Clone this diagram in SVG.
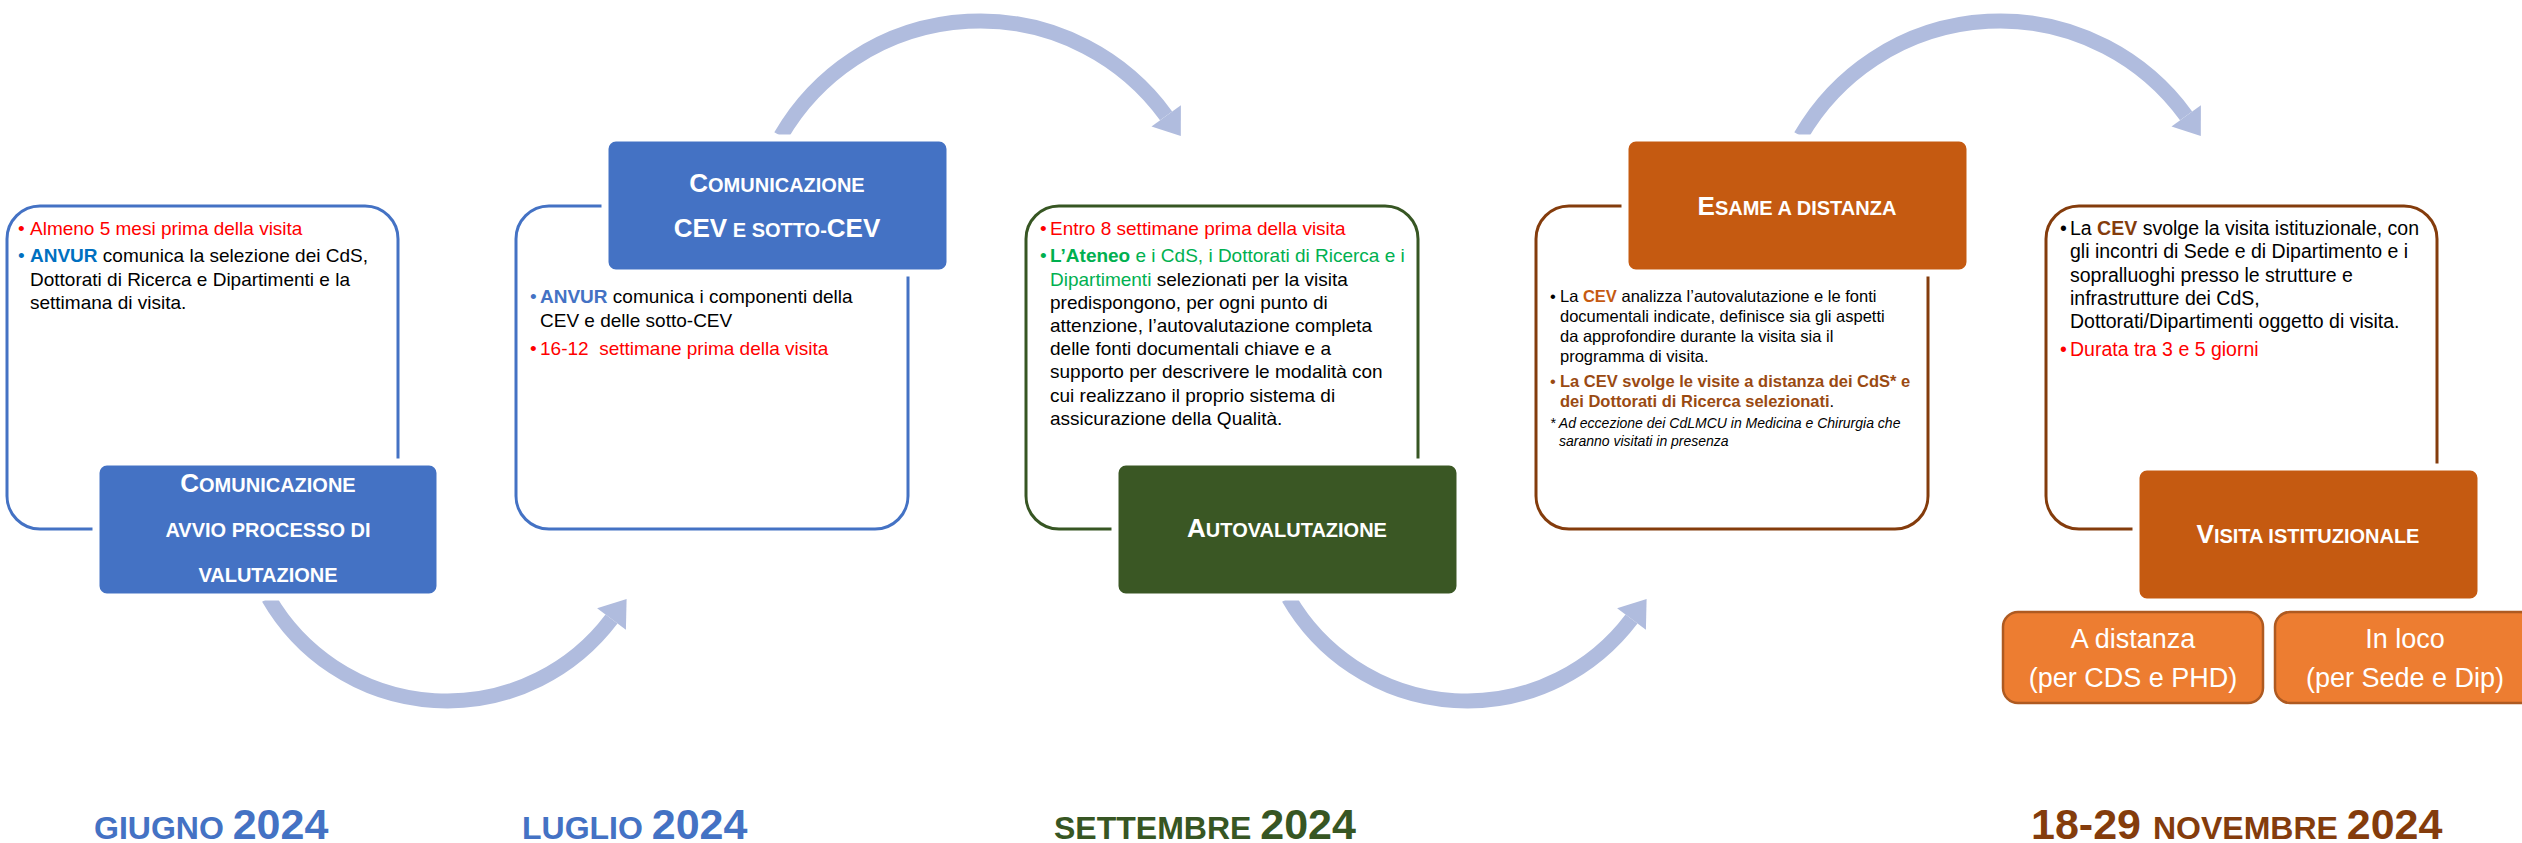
<svg xmlns="http://www.w3.org/2000/svg" width="2522" height="843" viewBox="0 0 2522 843">
<defs>
<style>
text{font-family:"Liberation Sans",Arial,sans-serif;}
.body{font-size:19px;fill:#000;}
.b4{font-size:16.5px;fill:#000;}
.b5{font-size:19.5px;fill:#000;}
.title{font-weight:bold;fill:#fff;text-anchor:middle;}
.big{font-size:26px;}
.sm{font-size:20px;}
.red{fill:#FF0000;}
.bold{font-weight:bold;}
.arc{fill:none;stroke:#B0BCDE;stroke-width:15;}
.head{fill:#B0BCDE;}
.oblue{fill:#fff;stroke:#4472C4;stroke-width:3;}
.ogreen{fill:#fff;stroke:#375623;stroke-width:3;}
.obrown{fill:#fff;stroke:#843C0C;stroke-width:3;}
.fill{stroke:#fff;stroke-width:7;}
.sub{fill:#ED7D31;stroke:#AE5A21;stroke-width:2.5;}
.subt{font-size:27px;fill:#fff;text-anchor:middle;}
.date{font-weight:bold;}
.dbig{font-size:43px;}
.dsm{font-size:32px;}
</style>
</defs>
<rect width="2522" height="843" fill="#fff"/>

<g id="connectors">
<path class="arc" d="M 268.6 598 A 206 206 0 0 0 611.5 619"/>
<polygon class="head" points="626.6,599 625.9,629.8 597.1,608.2"/>
<path class="arc" d="M 1288.6 598 A 206 206 0 0 0 1631.5 619"/>
<polygon class="head" points="1646.6,599 1645.9,629.8 1617.1,608.2"/>
<path class="arc" d="M 780.8 136 A 230 230 0 0 1 1166.1 115.8"/>
<polygon class="head" points="1180.8,136 1180.9,105.2 1151.5,126.4"/>
<path class="arc" d="M 1800.8 136 A 230 230 0 0 1 2186.1 115.8"/>
<polygon class="head" points="2200.8,136 2200.9,105.2 2171.5,126.4"/>
</g>

<g id="node-giugno">
<rect class="oblue" x="7" y="206" width="391" height="323" rx="33"/>
<rect class="fill" x="96" y="462" width="344" height="135" rx="11" fill="#4472C4"/>
<text class="title"><tspan x="268" y="492"><tspan class="big">C</tspan><tspan class="sm">OMUNICAZIONE</tspan></tspan><tspan class="sm" x="268" y="537">AVVIO PROCESSO DI</tspan><tspan class="sm" x="268" y="582">VALUTAZIONE</tspan></text>
<text class="body red" x="18" y="235">•</text>
<text class="body red" x="30" y="235">Almeno 5 mesi prima della visita</text>
<text class="body" x="18" y="262" style="fill:#0070C0">•</text>
<text class="body" x="30" y="262"><tspan class="bold" style="fill:#0070C0">ANVUR</tspan> comunica la selezione dei CdS,</text>
<text class="body" x="30" y="286">Dottorati di Ricerca e Dipartimenti e la</text>
<text class="body" x="30" y="309">settimana di visita.</text>
</g>

<g id="node-luglio">
<rect class="oblue" x="516" y="206" width="392" height="323" rx="33"/>
<rect class="fill" x="605" y="138" width="345" height="135" rx="11" fill="#4472C4"/>
<text class="title"><tspan x="777" y="192"><tspan class="big">C</tspan><tspan class="sm">OMUNICAZIONE</tspan></tspan><tspan x="777" y="237"><tspan class="big">CEV</tspan><tspan class="sm"> E SOTTO-</tspan><tspan class="big">CEV</tspan></tspan></text>
<text class="body" x="530" y="303" style="fill:#4472C4">•</text>
<text class="body" x="540" y="303"><tspan class="bold" style="fill:#4472C4">ANVUR</tspan> comunica i componenti della</text>
<text class="body" x="540" y="327">CEV e delle sotto-CEV</text>
<text class="body red" x="530" y="355">•</text>
<text class="body red" x="540" y="355" xml:space="preserve">16-12  settimane prima della visita</text>
</g>

<g id="node-settembre">
<rect class="ogreen" x="1026" y="206" width="392" height="323" rx="33"/>
<rect class="fill" x="1115" y="462" width="345" height="135" rx="11" fill="#3A5724"/>
<text class="title" x="1287" y="537"><tspan class="big">A</tspan><tspan class="sm">UTOVALUTAZIONE</tspan></text>
<text class="body red" x="1040" y="235">•</text>
<text class="body red" x="1050" y="235">Entro 8 settimane prima della visita</text>
<text class="body" x="1040" y="262" style="fill:#00B050">•</text>
<text class="body" x="1050" y="262" style="fill:#00B050"><tspan class="bold">L’Ateneo</tspan> e i CdS, i Dottorati di Ricerca e i</text>
<text class="body" x="1050" y="286"><tspan style="fill:#00B050">Dipartimenti</tspan> selezionati per la visita</text>
<text class="body" x="1050" y="309">predispongono, per ogni punto di</text>
<text class="body" x="1050" y="332">attenzione, l’autovalutazione completa</text>
<text class="body" x="1050" y="355">delle fonti documentali chiave e a</text>
<text class="body" x="1050" y="378">supporto per descrivere le modalità con</text>
<text class="body" x="1050" y="402">cui realizzano il proprio sistema di</text>
<text class="body" x="1050" y="425">assicurazione della Qualità.</text>
</g>

<g id="node-esame">
<rect class="obrown" x="1536" y="206" width="392" height="323" rx="33"/>
<rect class="fill" x="1625" y="138" width="345" height="135" rx="11" fill="#C55A11"/>
<text class="title" x="1797" y="215"><tspan class="big">E</tspan><tspan class="sm">SAME A DISTANZA</tspan></text>
<text class="b4" x="1550" y="302">•</text>
<text class="b4" x="1560" y="302">La <tspan class="bold" style="fill:#C55A11">CEV</tspan> analizza l’autovalutazione e le fonti</text>
<text class="b4" x="1560" y="322">documentali indicate, definisce sia gli aspetti</text>
<text class="b4" x="1560" y="342">da approfondire durante la visita sia il</text>
<text class="b4" x="1560" y="362">programma di visita.</text>
<text class="b4" x="1550" y="387" style="fill:#9A4A12">•</text>
<text class="b4 bold" x="1560" y="387" style="fill:#9A4A12">La CEV svolge le visite a distanza dei CdS* e</text>
<text class="b4" x="1560" y="407"><tspan class="bold" style="fill:#9A4A12">dei Dottorati di Ricerca selezionati</tspan>.</text>
<text x="1550" y="428" style="font-size:14px;font-style:italic;fill:#000">* Ad eccezione dei CdLMCU in Medicina e Chirurgia che</text>
<text x="1559" y="446" style="font-size:14px;font-style:italic;fill:#000">saranno visitati in presenza</text>
</g>

<g id="node-visita">
<rect class="obrown" x="2046" y="206" width="391" height="323" rx="33"/>
<rect class="fill" x="2136" y="467" width="345" height="135" rx="11" fill="#C55A11"/>
<text class="title" x="2308" y="543"><tspan class="big">V</tspan><tspan class="sm">ISITA ISTITUZIONALE</tspan></text>
<text class="b5" x="2060" y="235">•</text>
<text class="b5" x="2070" y="235">La <tspan class="bold" style="fill:#843C0C">CEV</tspan> svolge la visita istituzionale, con</text>
<text class="b5" x="2070" y="258">gli incontri di Sede e di Dipartimento e i</text>
<text class="b5" x="2070" y="282">sopralluoghi presso le strutture e</text>
<text class="b5" x="2070" y="305">infrastrutture dei CdS,</text>
<text class="b5" x="2070" y="328">Dottorati/Dipartimenti oggetto di visita.</text>
<text class="b5 red" x="2060" y="356">•</text>
<text class="b5 red" x="2070" y="356">Durata tra 3 e 5 giorni</text>
</g>

<g id="node-a-distanza">
<rect class="sub" x="2003" y="612" width="260" height="91" rx="15"/>
<text class="subt" x="2133" y="648">A distanza</text>
<text class="subt" x="2133" y="687">(per CDS e PHD)</text>
</g>

<g id="node-in-loco">
<rect class="sub" x="2275" y="612" width="260" height="91" rx="15"/>
<text class="subt" x="2405" y="648">In loco</text>
<text class="subt" x="2405" y="687">(per Sede e Dip)</text>
</g>

<g id="dates">
<text class="date" x="94" y="839" fill="#4472C4"><tspan class="dsm">GIUGNO </tspan><tspan class="dbig">2024</tspan></text>
<text class="date" x="522" y="839" fill="#4472C4"><tspan class="dsm">LUGLIO </tspan><tspan class="dbig">2024</tspan></text>
<text class="date" x="1054" y="839" fill="#375623"><tspan class="dsm">SETTEMBRE </tspan><tspan class="dbig">2024</tspan></text>
<text class="date" x="2031" y="839" fill="#843C0C"><tspan class="dbig">18-29 </tspan><tspan class="dsm">NOVEMBRE </tspan><tspan class="dbig">2024</tspan></text>
</g>
</svg>
